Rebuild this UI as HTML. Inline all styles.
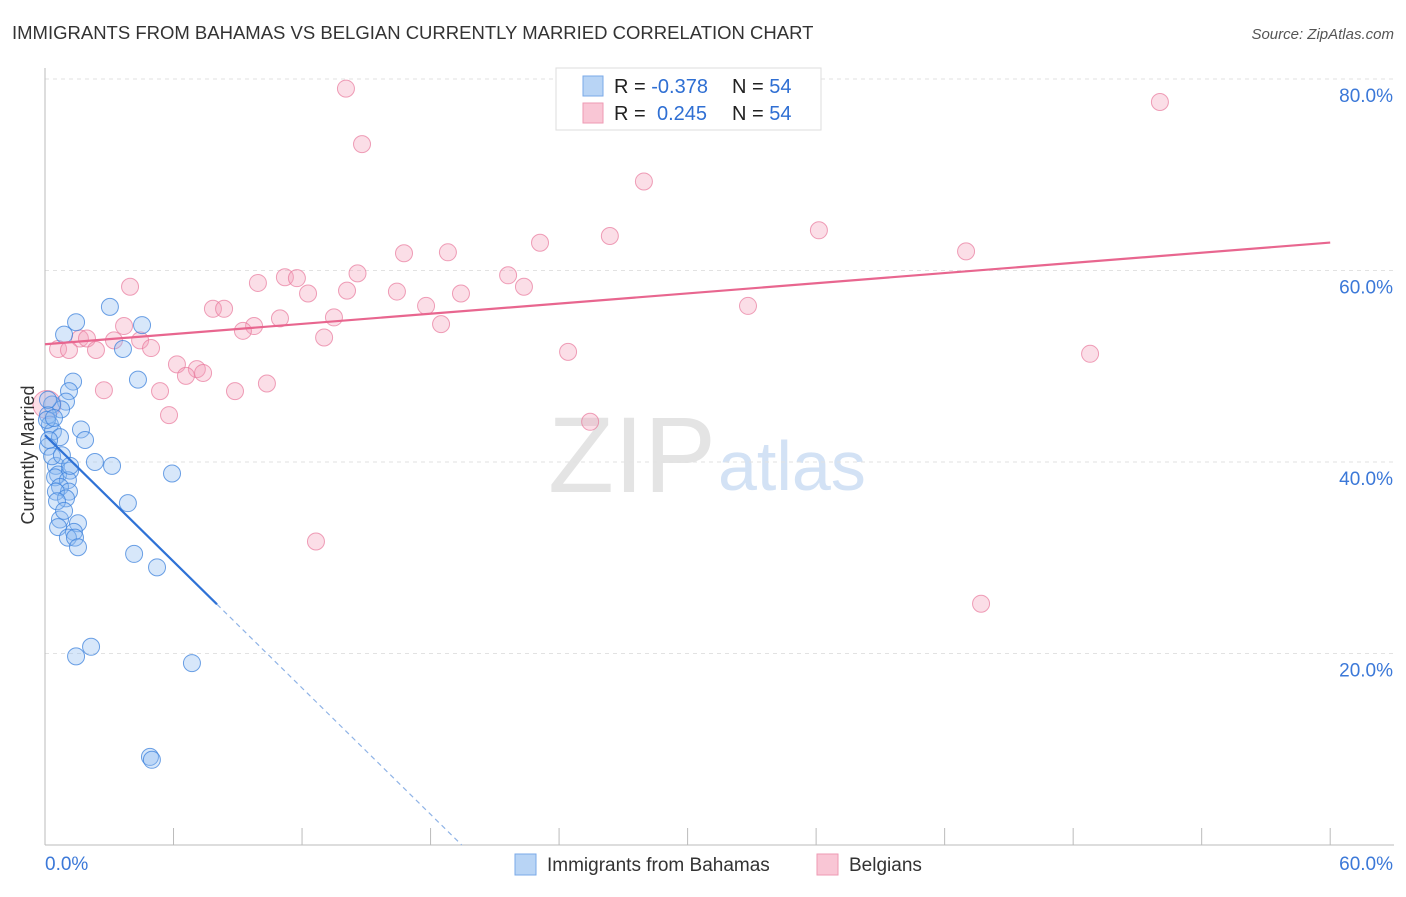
<!DOCTYPE html>
<html><head><meta charset="utf-8"><style>
body{margin:0;background:#fff;font-family:"Liberation Sans",sans-serif;}
svg text{font-family:"Liberation Sans",sans-serif;}
</style></head><body>
<svg id="chart" width="1406" height="892" xmlns="http://www.w3.org/2000/svg">
<text x="12" y="39" font-size="18.5" fill="#333">IMMIGRANTS FROM BAHAMAS VS BELGIAN CURRENTLY MARRIED CORRELATION CHART</text>
<text x="1394" y="39" font-size="15" fill="#555" text-anchor="end" font-style="italic">Source: ZipAtlas.com</text>
<text x="716" y="492" font-size="108" fill="#e4e4e4" text-anchor="end" font-family="Liberation Serif">ZIP</text>
<text x="718" y="490" font-size="70" fill="#d3e2f5">atlas</text>
<g id="grid"></g><g id="axes"></g><g id="pts"></g><g id="lines"></g>
<text x="34" y="455" font-size="18" fill="#333" text-anchor="middle" transform="rotate(-90 34 455)">Currently Married</text>
<g>
<rect x="556" y="68" width="265" height="62" fill="#fff" stroke="#ddd"/>
<rect x="583" y="76" width="20" height="20" fill="#b8d4f5" stroke="#7aaae8"/>
<rect x="583" y="103" width="20" height="20" fill="#f9c6d5" stroke="#ee9ab3"/>
<text x="614" y="93" font-size="20" fill="#222">R = <tspan fill="#2f6fd3">-0.378</tspan><tspan x="732">N = </tspan><tspan fill="#2f6fd3">54</tspan></text>
<text x="614" y="120" font-size="20" fill="#222">R = <tspan x="657" fill="#2f6fd3">0.245</tspan><tspan x="732">N = </tspan><tspan fill="#2f6fd3">54</tspan></text>
</g>
<g>
<rect x="515" y="854" width="21" height="21" fill="#b8d4f5" stroke="#7aaae8"/>
<text x="547" y="871" font-size="19" fill="#333">Immigrants from Bahamas</text>
<rect x="817" y="854" width="21" height="21" fill="#f9c6d5" stroke="#ee9ab3"/>
<text x="849" y="871" font-size="19" fill="#333">Belgians</text>
</g>
</svg>
<script>
const yTicks=[20,40,60,80];
const xTickLabels=["0.0%","60.0%"];
const bahamasX=[0.89,1.45,3.03,4.53,3.64,4.34,1.31,1.12,0.98,0.75,0.33,0.14,0.23,0.37,0.70,1.68,0.14,2.33,3.13,0.51,0.61,1.17,0.47,1.07,0.70,1.12,0.51,0.98,3.87,5.93,0.70,1.54,0.61,1.35,1.07,1.40,1.54,4.16,5.23,2.15,1.45,6.86,4.90,4.99,0.09,0.19,0.33,0.79,1.17,0.56,0.89,0.14,0.42,1.87];
const bahamasY=[53.3,54.6,56.2,54.3,51.8,48.6,48.4,47.4,46.3,45.5,46.0,44.9,43.9,43.2,42.6,43.4,41.6,40.0,39.6,39.6,38.7,39.1,38.4,38.1,37.4,36.9,36.9,36.2,35.7,38.8,34.0,33.6,33.2,32.7,32.1,32.1,31.1,30.4,29.0,20.7,19.7,19.0,9.2,8.9,44.4,42.3,40.6,40.7,39.6,35.9,34.9,46.5,44.6,42.3];
const belgX=[14.05,52.05,14.80,27.96,36.13,26.37,23.11,43.00,18.81,16.76,14.59,21.62,11.20,11.76,9.94,3.97,14.10,16.43,22.36,12.28,19.42,17.79,32.82,7.84,8.36,10.97,13.49,3.69,9.76,18.49,9.24,13.03,1.63,1.96,3.22,4.44,0.61,1.12,2.38,4.95,24.42,48.79,6.16,7.09,7.38,6.58,10.36,2.75,5.37,8.87,5.79,25.45,12.65,43.70,0.09];
const belgY=[79.0,77.6,73.2,69.3,64.2,63.6,62.9,62.0,61.9,61.8,59.7,59.5,59.3,59.2,58.7,58.3,57.9,57.8,58.3,57.6,57.6,56.3,56.3,56.0,56.0,55.0,55.1,54.2,54.2,54.4,53.7,53.0,52.9,52.9,52.7,52.7,51.8,51.7,51.7,51.9,51.5,51.3,50.2,49.7,49.3,49.0,48.2,47.5,47.4,47.4,44.9,44.2,31.7,25.2,46.0];
const bahamasTrend=[42.8,-2.2];const belgTrend=[52.3,0.177];
const X=v=>45+v*21.42, Y=v=>845-v*9.575;
const NS="http://www.w3.org/2000/svg";
function mk(t,a,p){const e=document.createElementNS(NS,t);for(const k in a)e.setAttribute(k,a[k]);p.appendChild(e);return e;}
const grid=document.getElementById('grid'),axes=document.getElementById('axes'),pts=document.getElementById('pts'),lines=document.getElementById('lines');
yTicks.forEach(t=>{const l=mk('line',{x1:45,x2:1394,y1:Y(t),y2:Y(t),stroke:'#e2e2e2','stroke-dasharray':'4,4'},grid);


const tx=mk('text',{x:1393,y:Y(t)+23,'font-size':19,fill:'#3b78d8','text-anchor':'end'},grid);tx.textContent=t.toFixed(1)+'%';

});
const ax=mk('line',{x1:45,x2:1394,y1:845,y2:845,stroke:'#bbb'},axes);


const ay=mk('line',{x1:45,x2:45,y1:68,y2:845,stroke:'#bbb'},axes);


for(let i=0;i<=10;i++){const tk=mk('line',{x1:X(i*6),x2:X(i*6),y1:828,y2:845,stroke:'#bbb'},axes);

}
[[45,'start',0],[1393,'end',1]].forEach(([x,a,i])=>{const t=mk('text',{x:x,y:870,'font-size':19,fill:'#3b78d8','text-anchor':a},axes);t.textContent=xTickLabels[i];

});
belgX.forEach((v,i)=>{const c=mk('circle',{cx:X(v),cy:Y(belgY[i]),r:i==belgX.length-1?14:8.5,fill:'rgba(244,160,185,0.35)',stroke:'rgba(232,120,155,0.7)','stroke-width':1},pts);

});
bahamasX.forEach((v,i)=>{const c=mk('circle',{cx:X(v),cy:Y(bahamasY[i]),r:8.5,fill:'rgba(140,185,240,0.35)',stroke:'rgba(60,130,220,0.75)','stroke-width':1},pts);

});
const pl=mk('line',{x1:X(0),y1:Y(belgTrend[0]),x2:X(60),y2:Y(belgTrend[0]+60*belgTrend[1]),stroke:'#e8668f','stroke-width':2.2},lines);


const xe=8.03, xz=-bahamasTrend[0]/bahamasTrend[1];
const bl=mk('line',{x1:X(0),y1:Y(bahamasTrend[0]),x2:X(xe),y2:Y(bahamasTrend[0]+xe*bahamasTrend[1]),stroke:'#2f72d6','stroke-width':2.2},lines);


const bd=mk('line',{x1:X(xe),y1:Y(bahamasTrend[0]+xe*bahamasTrend[1]),x2:X(xz),y2:Y(0),stroke:'#8fb3e6','stroke-width':1.2,'stroke-dasharray':'5,4'},lines);


</script>
</body></html>
